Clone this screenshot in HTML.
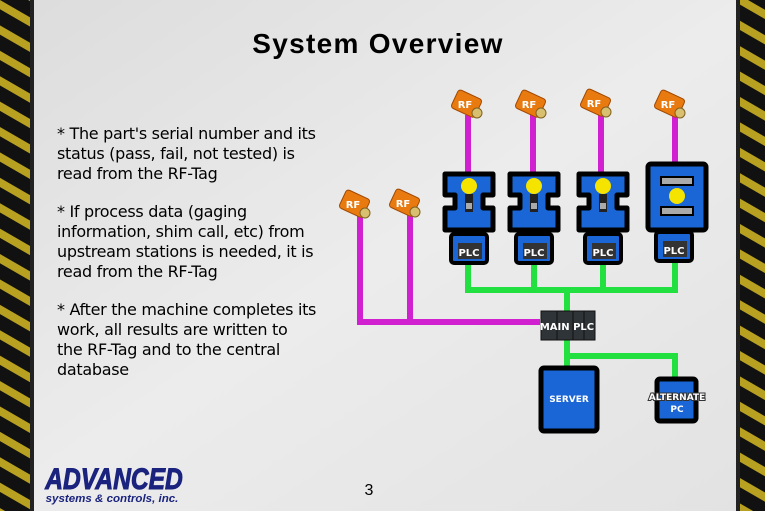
<!DOCTYPE html>
<html><head><meta charset="utf-8"><style>
body{margin:0;width:765px;height:511px;overflow:hidden;background:#e4e4e4}
svg{display:block}
</style></head><body>
<svg width="765" height="511" viewBox="0 0 765 511" xmlns="http://www.w3.org/2000/svg">
<defs>
<pattern id="hz" width="22" height="22" patternUnits="userSpaceOnUse" patternTransform="rotate(30)">
<rect width="22" height="22" fill="#111"/><rect width="22" height="8" fill="#b8a020"/>
</pattern>
<linearGradient id="bg" x1="0" y1="0" x2="1" y2="1">
<stop offset="0" stop-color="#dcdcdc"/><stop offset="0.5" stop-color="#ececec"/><stop offset="1" stop-color="#e2e2e2"/>
</linearGradient>
<g id="rf">
<rect x="-14" y="-11" width="26" height="20" rx="3" fill="#e87a10" stroke="#a04800" stroke-width="1" transform="rotate(25)"/>
<circle cx="10" cy="8" r="5" fill="#d8c070" stroke="#806020"/>
<text x="-2" y="3" font-family="DejaVu Sans" font-weight="bold" font-size="10" fill="#fff" text-anchor="middle">RF</text>
</g>
<g id="mach">
<path d="M0,0 H48 V21 H38 V34 H48 V56 H0 V34 H10 V21 H0 Z" fill="#1a66d6" stroke="#000" stroke-width="5" stroke-linejoin="round"/>
<rect x="20" y="20" width="8" height="18" fill="#222"/><rect x="21" y="29" width="6" height="6" fill="#aaa"/>
<circle cx="24" cy="12" r="8" fill="#f5e400"/>
</g>
<g id="plc">
<rect x="0" y="0" width="36" height="29" rx="3" fill="#1a66d6" stroke="#000" stroke-width="4"/>
<rect x="7" y="9" width="24" height="16" fill="#333"/>
<text x="18" y="22" font-family="DejaVu Sans" font-weight="bold" font-size="10" fill="#fff" text-anchor="middle">PLC</text>
</g>
</defs>
<rect width="765" height="511" fill="url(#bg)"/>
<rect x="0" y="0" width="31" height="511" fill="url(#hz)"/>
<rect x="30" y="0" width="4" height="511" fill="#222"/>
<rect x="739" y="0" width="26" height="511" fill="url(#hz)"/>
<rect x="736" y="0" width="4" height="511" fill="#222"/>
<text x="378" y="53" font-family="Liberation Sans" font-weight="bold" font-size="28" letter-spacing="1.3" text-anchor="middle" fill="#000">System Overview</text>
<g font-family="DejaVu Sans" font-size="16" fill="#000" letter-spacing="-0.3">
<text x="57" y="139">* The part's serial number and its</text>
<text x="57" y="159">status (pass, fail, not tested) is</text>
<text x="57" y="179">read from the RF-Tag</text>
<text x="57" y="217">* If process data (gaging</text>
<text x="57" y="237">information, shim call, etc) from</text>
<text x="57" y="257">upstream stations is needed, it is</text>
<text x="57" y="277">read from the RF-Tag</text>
<text x="57" y="315">* After the machine completes its</text>
<text x="57" y="335">work, all results are written to</text>
<text x="57" y="355">the RF-Tag and to the central</text>
<text x="57" y="375">database</text>
</g>
<g stroke="#d020d0" stroke-width="6" fill="none">
<path d="M468,115 V175 M533,115 V175 M601,115 V175 M675,115 V165"/>
<path d="M360,215 V322 H540 M410,215 V322"/>
</g>
<g stroke="#22e040" stroke-width="6" fill="none">
<path d="M468,262 V290 H675 V260 M534,262 V290 M603,262 V290 M567,290 V312 M567,340 V356 H675 V378 M567,356 V368"/>
</g>
<use href="#rf" x="467" y="105"/><use href="#rf" x="531" y="105"/><use href="#rf" x="596" y="104"/><use href="#rf" x="670" y="105"/>
<use href="#rf" x="355" y="205"/><use href="#rf" x="405" y="204"/>
<use href="#mach" x="445" y="174"/><use href="#mach" x="510" y="174"/><use href="#mach" x="579" y="174"/>
<rect x="648" y="164" width="58" height="66" rx="3" fill="#1a66d6" stroke="#000" stroke-width="5"/>
<rect x="661" y="177" width="32" height="8" fill="#aaa" stroke="#000" stroke-width="2"/>
<rect x="661" y="207" width="32" height="8" fill="#aaa" stroke="#000" stroke-width="2"/>
<circle cx="677" cy="196" r="8" fill="#f5e400"/>
<use href="#plc" x="451" y="234"/><use href="#plc" x="516" y="234"/><use href="#plc" x="585" y="234"/><use href="#plc" x="656" y="232"/>
<rect x="541" y="311" width="54" height="29" fill="#2e3438" stroke="#111"/>
<path d="M557,311 V340 M573,311 V340 M584,311 V340" stroke="#111"/>
<text x="567" y="330" font-family="DejaVu Sans" font-weight="bold" font-size="10" fill="#fff" text-anchor="middle">MAIN PLC</text>
<rect x="541" y="368" width="56" height="63" rx="3" fill="#1a66d6" stroke="#000" stroke-width="5"/>
<text x="569" y="402" font-family="DejaVu Sans" font-weight="bold" font-size="9" fill="#fff" text-anchor="middle">SERVER</text>
<rect x="657" y="379" width="39" height="42" rx="3" fill="#1a66d6" stroke="#000" stroke-width="5"/>
<text x="677" y="400" font-family="DejaVu Sans" font-weight="bold" font-size="9" fill="#fff" text-anchor="middle" stroke="#333" stroke-width="2" paint-order="stroke">ALTERNATE</text>
<text x="677" y="412" font-family="DejaVu Sans" font-weight="bold" font-size="9" fill="#fff" text-anchor="middle">PC</text>
<text x="0" y="0" font-family="Liberation Sans" font-weight="bold" font-style="italic" font-size="30" fill="#1a237e" text-anchor="middle" transform="translate(114,489) scale(0.82,1)" stroke="#1a237e" stroke-width="1">ADVANCED</text>
<text x="0" y="0" font-family="Liberation Sans" font-weight="bold" font-style="italic" font-size="11" fill="#1a237e" text-anchor="middle" transform="translate(112,502) scale(1.05,1)">systems &amp; controls, inc.</text>
<text x="369" y="495" font-family="Liberation Sans" font-size="16" fill="#000" text-anchor="middle">3</text>
</svg>
</body></html>
